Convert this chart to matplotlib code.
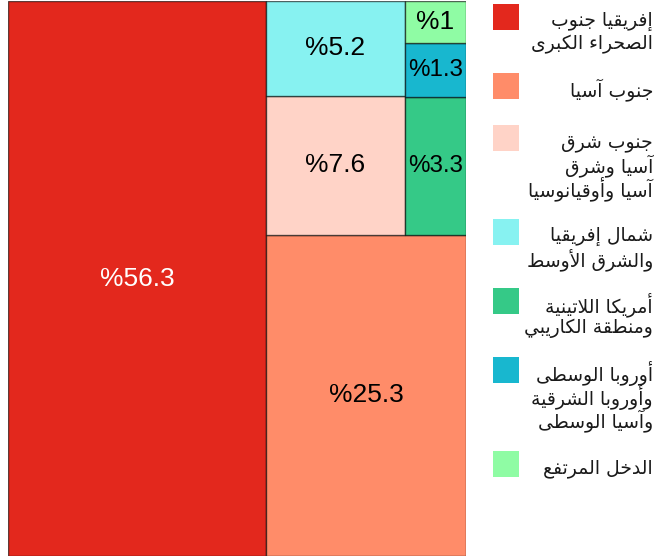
import matplotlib
matplotlib.use("Agg")
import matplotlib.pyplot as plt
from matplotlib.patches import Rectangle

# data
regions = [
    ["إفريقيا جنوب", "الصحراء الكبرى"],
    ["جنوب آسيا"],
    ["جنوب شرق", "آسيا وشرق", "آسيا وأوقيانوسيا"],
    ["شمال إفريقيا", "والشرق الأوسط"],
    ["أمريكا اللاتينية", "ومنطقة الكاريبي"],
    ["أوروبا الوسطى", "وأوروبا الشرقية", "وآسيا الوسطى"],
    ["الدخل المرتفع"],
]
shares = [56.3, 25.3, 7.6, 5.2, 3.3, 1.3, 1]
share_labels = ["%56.3", "%25.3", "%7.6", "%5.2", "%3.3", "%1.3", "%1"]
colors = ["#E3281D", "#FF8C69", "#FFD3C7", "#87F2F1", "#35C987", "#18B7CF", "#8FFCA4"]
text_colors = ["white", "black", "black", "black", "black", "black", "black"]

# nesting of the treemap (leaf = index into shares)
tree = [0, [1, [[2, 3], [4, 5, 6]]]]


# --- tiny Arabic shaper (matplotlib has no shaping / bidi) ---
_forms = [("ء", 0xFE80, 1), ("آ", 0xFE81, 2), ("أ", 0xFE83, 2), ("ؤ", 0xFE85, 2),
          ("إ", 0xFE87, 2), ("ئ", 0xFE89, 4), ("ا", 0xFE8D, 2), ("ب", 0xFE8F, 4),
          ("ة", 0xFE93, 2), ("ت", 0xFE95, 4), ("ث", 0xFE99, 4), ("ج", 0xFE9D, 4),
          ("ح", 0xFEA1, 4), ("خ", 0xFEA5, 4), ("د", 0xFEA9, 2), ("ذ", 0xFEAB, 2),
          ("ر", 0xFEAD, 2), ("ز", 0xFEAF, 2), ("س", 0xFEB1, 4), ("ش", 0xFEB5, 4),
          ("ص", 0xFEB9, 4), ("ض", 0xFEBD, 4), ("ط", 0xFEC1, 4), ("ظ", 0xFEC5, 4),
          ("ع", 0xFEC9, 4), ("غ", 0xFECD, 4), ("ف", 0xFED1, 4), ("ق", 0xFED5, 4),
          ("ك", 0xFED9, 4), ("ل", 0xFEDD, 4), ("م", 0xFEE1, 4), ("ن", 0xFEE5, 4),
          ("ه", 0xFEE9, 4), ("و", 0xFEED, 2), ("ى", 0xFEEF, 2), ("ي", 0xFEF1, 4)]
FORMS = {c: (b, n) for c, b, n in _forms}
LAM_ALEF = {"آ": 0xFEF5, "أ": 0xFEF7, "إ": 0xFEF9, "ا": 0xFEFB}


def shape(text):
    units = []
    i = 0
    while i < len(text):
        c = text[i]
        if c == "ل" and i + 1 < len(text) and text[i + 1] in LAM_ALEF:
            units.append((LAM_ALEF[text[i + 1]], 2))
            i += 2
        elif c in FORMS:
            units.append(FORMS[c])
            i += 1
        else:
            units.append((c, 0))
            i += 1

    def jtype(u):
        return {4: "D", 2: "R", 1: "U"}.get(u[1], "U")

    out = []
    for k, u in enumerate(units):
        if u[1] == 0:
            out.append(u[0])
            continue
        t = jtype(u)
        jp = t in "DR" and k > 0 and jtype(units[k - 1]) == "D"
        jn = t == "D" and k + 1 < len(units) and jtype(units[k + 1]) in "DR"
        if jp and jn:
            off = 3
        elif jn:
            off = 2
        elif jp:
            off = 1
        else:
            off = 0
        out.append(chr(u[0] + off))
    return "".join(out)[::-1]


def total(node):
    if isinstance(node, int):
        return shares[node]
    return sum(total(c) for c in node)


def layout(node, x, y, w, h, depth, out):
    if isinstance(node, int):
        out[node] = (x, y, w, h)
        return
    s = total(node)
    pos = 0
    for child in node:
        f = total(child) / s
        if depth % 2 == 0:
            layout(child, x + pos * w, y, w * f, h, depth + 1, out)
        else:
            layout(child, x, y + pos * h, w, h * f, depth + 1, out)
        pos += f


W_PX, H_PX = 655, 560
fig = plt.figure(figsize=(W_PX / 100, H_PX / 100), dpi=100)

ax_l, ax_b, ax_w, ax_h = 8, 4, 458, 555
ax = fig.add_axes([ax_l / W_PX, ax_b / H_PX, ax_w / W_PX, ax_h / H_PX])
ax.set_xlim(0, 1)
ax.set_ylim(0, 1)
ax.axis("off")

rects = {}
layout(tree, 0, 0, 1, 1, 0, rects)

renderer = fig.canvas.get_renderer()
for i in range(len(shares)):
    x, y, w, h = rects[i]
    ax.add_patch(Rectangle((x, y), w, h, facecolor=colors[i],
                           edgecolor=(0, 0, 0, 0.6), linewidth=1))
    t = ax.text(x + w / 2, y + h / 2, share_labels[i], ha="center", va="center",
                fontsize=19, color=text_colors[i], family="Liberation Sans")
    tw = t.get_window_extent(renderer).width
    max_w = w * ax_w - 6
    if tw > max_w:
        t.set_fontsize(19 * max_w / tw)

# legend
lax = fig.add_axes([0, 0, 1, 1])
lax.set_xlim(0, W_PX)
lax.set_ylim(H_PX, 0)
lax.axis("off")

top = 4
for i, lines in enumerate(regions):
    lax.add_patch(Rectangle((493, top), 26, 26, facecolor=colors[i], edgecolor="none"))
    for k, line in enumerate(lines):
        lax.text(653, top + 17 + 23.5 * k, shape(line), ha="right", va="center",
                 fontsize=13.5, color="#1a1a1a", family="DejaVu Sans")
    top += max(25 * len(lines) + 19, 52)

fig.savefig("out.png", dpi=100)
